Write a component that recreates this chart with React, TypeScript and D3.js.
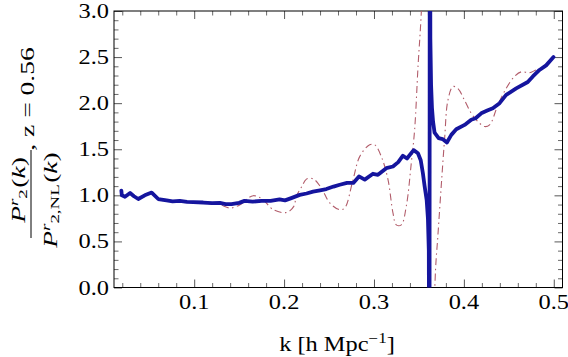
import React from 'react';
import * as d3 from 'd3';

// measured ratio P^r_2 / P^r_2,NL at z = 0.56 (thick blue curve)
const kBlue = [0.0190, 0.0195, 0.0230, 0.0287, 0.0330, 0.0378, 0.0450, 0.0527, 0.0600, 0.0693,
  0.0760, 0.0840, 0.0920, 0.0990, 0.1100, 0.1200, 0.1286, 0.1350, 0.1415, 0.1500,
  0.1560, 0.1650, 0.1750, 0.1850, 0.1950, 0.2010, 0.2080, 0.2174, 0.2250, 0.2322,
  0.2400, 0.2470, 0.2550, 0.2619, 0.2700, 0.2770, 0.2833, 0.2897, 0.2989, 0.3044,
  0.3137, 0.3211, 0.3270, 0.3322, 0.3367, 0.3441, 0.3489, 0.3520, 0.3544, 0.3563,
  0.3586, 0.3600, 0.3610, 0.3617, 0.3621, 0.3627, 0.3635, 0.3645, 0.3657, 0.3674,
  0.3719, 0.3763, 0.3811, 0.3860, 0.3915, 0.4008, 0.4082, 0.4130, 0.4193, 0.4260,
  0.4322, 0.4397, 0.4470, 0.4582, 0.4711, 0.4767, 0.4841, 0.4915, 0.4997];
const ratioBlue = [1.05, 1.00, 0.985, 1.025, 0.99, 0.96, 1.00, 1.03, 0.96, 0.945,
  0.935, 0.94, 0.93, 0.927, 0.922, 0.915, 0.918, 0.905, 0.905, 0.918,
  0.94, 0.932, 0.94, 0.94, 0.955, 0.945, 0.97, 1.005, 1.02, 1.04,
  1.055, 1.068, 1.095, 1.115, 1.135, 1.135, 1.205, 1.17, 1.234, 1.223,
  1.295, 1.313, 1.36, 1.43, 1.40, 1.49, 1.457, 1.38, 1.24, 1.10,
  0.95, 0.75, 0.4, -3.0, 6.0, 2.7, 2.2, 1.95, 1.80, 1.68,
  1.62, 1.61, 1.573, 1.656, 1.717, 1.764, 1.82, 1.836, 1.89, 1.92,
  1.945, 2.0, 2.09, 2.16, 2.23, 2.29, 2.36, 2.41, 2.50];

// model curve (thin dot-dashed), NaN marks the break at the pole
const kRed = [0.0190, 0.0230, 0.0287, 0.0378, 0.0527, 0.0600, 0.0693, 0.0840, 0.0990, 0.1100,
  0.1200, 0.1286, 0.1400, 0.1510, 0.1600, 0.1656, 0.1710, 0.1767, 0.1880, 0.2030,
  0.2108, 0.2137, 0.2200, 0.2249, 0.2322, 0.2415, 0.2508, 0.2619, 0.2674, 0.2767,
  0.2841, 0.2952, 0.3008, 0.3082, 0.3156, 0.3211, 0.3248, 0.3304, 0.3359, 0.3415,
  0.3452, 0.3490, 0.3527, 0.3545, 0.3600, 0.3660, 0.3685, 0.3710, 0.3748, 0.3786,
  0.3822, 0.3878, 0.3933, 0.4008, 0.4082, 0.4156, 0.4230, 0.4286, 0.4378, 0.4470,
  0.4563, 0.4637, 0.4730, 0.4800, 0.4915, 0.4997];
const ratioRed = [1.03, 0.99, 1.02, 0.96, 1.02, 0.965, 0.94, 0.935, 0.925, 0.92,
  0.905, 0.898, 0.862, 0.898, 0.97, 0.996, 0.985, 0.952, 0.844, 0.815,
  0.88, 0.99, 1.10, 1.176, 1.18, 1.079, 0.917, 0.844, 0.862, 1.17,
  1.42, 1.548, 1.548, 1.42, 1.17, 0.81, 0.68, 0.68, 0.88, 1.35,
  1.71, 2.4, 3.0, 3.6, NaN, -0.6, 0.2, 0.55, 1.1, 1.62,
  2.03, 2.18, 2.16, 2.03, 1.89, 1.80, 1.746, 1.764, 1.98, 2.16,
  2.29, 2.34, 2.33, 2.36, 2.41, 2.50];

const xTicks = [0.1, 0.2, 0.3, 0.4, 0.5];
const xTickLabels = ['0.1', '0.2', '0.3', '0.4', '0.5'];
const yTicks = [0, 0.5, 1, 1.5, 2, 2.5, 3];
const yTickLabels = ['0.0', '0.5', '1.0', '1.5', '2.0', '2.5', '3.0'];

class App extends React.Component {
  myDiv = React.createRef<HTMLDivElement>();

  componentDidMount() {
    const root = d3.select(this.myDiv.current);
    root.selectAll('*').remove();

    const W = 568, H = 357;
    const left = 114, right = 562.5, top = 11, bottom = 287.5;

    const x = d3.scaleLinear().domain([0.0108, 0.5097]).range([left, right]);
    const y = d3.scaleLinear().domain([0, 3]).range([bottom, top]);

    const svg = root.append('svg')
      .attr('width', W).attr('height', H)
      .style('position', 'absolute').style('left', 0).style('top', 0)
      .style('font-family', '"Liberation Serif", "Times New Roman", serif');

    svg.append('rect').attr('width', W).attr('height', H).attr('fill', '#fff');

    // ticks, inward on all four sides
    const xMinor = d3.range(0.02, 0.5001, 0.02).filter(v => Math.abs(v * 10 - Math.round(v * 10)) > 1e-6);
    const yMinor = d3.range(0.1, 2.95, 0.1).filter(v => Math.abs(v * 2 - Math.round(v * 2)) > 1e-6);
    const tickCol = '#444';

    const axes = [
      { ax: d3.axisBottom(x), t: `translate(0,${bottom})`, vals: xTicks, minor: xMinor },
      { ax: d3.axisTop(x), t: `translate(0,${top})`, vals: xTicks, minor: xMinor },
      { ax: d3.axisLeft(y), t: `translate(${left},0)`, vals: yTicks, minor: yMinor },
      { ax: d3.axisRight(y), t: `translate(${right},0)`, vals: yTicks, minor: yMinor },
    ];
    axes.forEach(a => {
      const gMaj = svg.append('g').attr('transform', a.t)
        .call(a.ax.tickValues(a.vals).tickSizeInner(-8).tickSizeOuter(0).tickFormat(() => ''));
      gMaj.select('.domain').remove();
      gMaj.selectAll('line').attr('stroke', tickCol).attr('stroke-width', 0.9);
      const gMin = svg.append('g').attr('transform', a.t)
        .call(a.ax.tickValues(a.minor).tickSizeInner(-4.5).tickSizeOuter(0).tickFormat(() => ''));
      gMin.select('.domain').remove();
      gMin.selectAll('line').attr('stroke', tickCol).attr('stroke-width', 0.8);
    });

    // frame
    svg.append('rect')
      .attr('x', left).attr('y', top)
      .attr('width', right - left).attr('height', bottom - top)
      .attr('fill', 'none').attr('stroke', '#000').attr('stroke-width', 1);

    // curves
    svg.append('clipPath').attr('id', 'plotClip')
      .append('rect').attr('x', left).attr('y', top)
      .attr('width', right - left).attr('height', bottom - top);

    const plot = svg.append('g').attr('clip-path', 'url(#plotClip)');

    const redLine = d3.line<number>()
      .defined(d => !isNaN(d))
      .x((d, i) => x(kRed[i]))
      .y(d => y(d))
      .curve(d3.curveCatmullRom.alpha(0.5));
    plot.append('path').datum(ratioRed)
      .attr('d', redLine)
      .attr('fill', 'none')
      .attr('stroke', '#b25d6b')
      .attr('stroke-width', 1.1)
      .attr('stroke-dasharray', '7,3.5,1.5,3.5');

    const blueLine = d3.line<number>()
      .x((d, i) => x(kBlue[i]))
      .y(d => y(d));
    plot.append('path').datum(ratioBlue)
      .attr('d', blueLine)
      .attr('fill', 'none')
      .attr('stroke', '#15159e')
      .attr('stroke-width', 3.8)
      .attr('stroke-linejoin', 'round')
      .attr('stroke-linecap', 'round');

    // tick labels (glyphs in the reference are wider than tall)
    const sx = 1.22;
    yTicks.forEach((v, i) => {
      svg.append('g').attr('transform', `translate(109,${y(v) + 7}) scale(${sx},1)`)
        .append('text').attr('text-anchor', 'end').attr('font-size', 20)
        .text(yTickLabels[i]);
    });
    xTicks.forEach((v, i) => {
      svg.append('g').attr('transform', `translate(${x(v)},309) scale(${sx},1)`)
        .append('text').attr('text-anchor', 'middle').attr('font-size', 20)
        .text(xTickLabels[i]);
    });

    // x axis title
    const xt = svg.append('g').attr('transform', `translate(337,351) scale(${sx},1)`)
      .append('text').attr('text-anchor', 'middle').attr('font-size', 20);
    xt.append('tspan').text('k [h Mpc');
    xt.append('tspan').attr('font-size', 14).attr('dy', -8).text('\u22121');
    xt.append('tspan').attr('dy', 8).text(']');

    // y axis title, rotated fraction
    const ry = 1.45;
    const num = svg.append('g').attr('transform', `translate(25,190) rotate(-90) scale(${ry},1)`)
      .append('text').attr('text-anchor', 'middle').attr('font-size', 19);
    num.append('tspan').attr('font-style', 'italic').text('P');
    num.append('tspan').attr('font-style', 'italic').attr('font-size', 13).attr('dy', -7).text('r');
    num.append('tspan').attr('font-size', 13).attr('dy', 9).text('2');
    num.append('tspan').attr('dy', -2).attr('dx', 1).text('(');
    num.append('tspan').attr('font-style', 'italic').text('k');
    num.append('tspan').text(')');

    const den = svg.append('g').attr('transform', `translate(57,200) rotate(-90) scale(${ry},1)`)
      .append('text').attr('text-anchor', 'middle').attr('font-size', 19);
    den.append('tspan').attr('font-style', 'italic').text('P');
    den.append('tspan').attr('font-style', 'italic').attr('font-size', 13).attr('dy', -7).text('r');
    den.append('tspan').attr('font-size', 13).attr('dy', 9).text('2,NL');
    den.append('tspan').attr('dy', -2).attr('dx', 1).text('(');
    den.append('tspan').attr('font-style', 'italic').text('k');
    den.append('tspan').text(')');

    svg.append('line')
      .attr('x1', 31).attr('x2', 31).attr('y1', 150).attr('y2', 238)
      .attr('stroke', '#000').attr('stroke-width', 1);

    svg.append('g').attr('transform', `translate(34,99) rotate(-90) scale(${ry},1)`)
      .append('text').attr('text-anchor', 'middle').attr('font-size', 19)
      .text(', z = 0.56');
  }

  render() {
    return <div ref={this.myDiv}></div>;
  }
}

export default App;
